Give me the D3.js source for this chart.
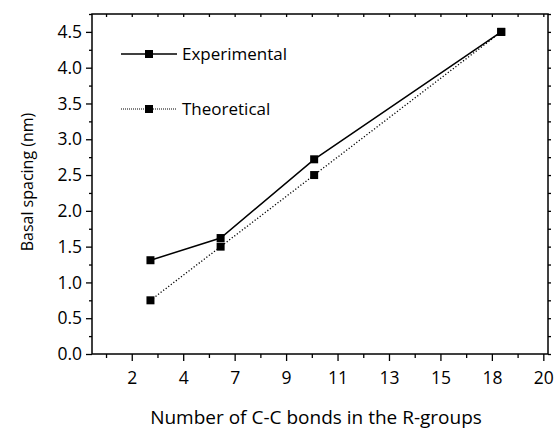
<!DOCTYPE html>
<html>
<head>
<meta charset="utf-8">
<script src="https://cdn.jsdelivr.net/npm/d3@7"></script>
<style>
  body { margin: 0; background: #fff; }
  text { font-family: "Open Sans", sans-serif; fill: #000; }
</style>
</head>
<body>
<div id="chart"></div>
<script>
// bonds in the R-groups (x) and basal spacing in nm (y)
const bonds = [3, 6, 10, 18];
const experimental = [1.31, 1.62, 2.72, 4.5];
const theoretical = [0.75, 1.5, 2.5, 4.5];
// x ticks every 2.2, shown rounded (2, 4, 7, 9 ...)
const xTicks = [2.2, 4.4, 6.6, 8.8, 11, 13.2, 15.4, 17.6, 19.8];
const xMinor = [1.1, 3.3, 5.5, 7.7, 9.9, 12.1, 14.3, 16.5, 18.7];
const yTicks = [0, 0.5, 1, 1.5, 2, 2.5, 3, 3.5, 4, 4.5];
const yMinor = [0.25, 0.75, 1.25, 1.75, 2.25, 2.75, 3.25, 3.75, 4.25, 4.75];

const W = 554, H = 429;
const margin = {top: 14, right: 6, bottom: 75, left: 92};
const w = W - margin.left - margin.right;
const h = H - margin.top - margin.bottom;

const svg = d3.select("#chart").append("svg")
    .attr("width", W).attr("height", H);
const g = svg.append("g")
    .attr("transform", `translate(${margin.left},${margin.top})`);

const x = d3.scaleLinear().domain([0.5, 20]).range([0, w]);
const y = d3.scaleLinear().domain([0, 4.75]).range([h, 0]);

// frame
g.append("rect").attr("width", w).attr("height", h)
  .attr("fill", "none").attr("stroke", "#000").attr("stroke-width", 1.5);

// bottom axis
g.append("g").attr("transform", `translate(0,${h})`)
  .call(d3.axisBottom(x).tickValues(xTicks).tickFormat(d3.format(".0f"))
        .tickSize(7).tickPadding(11));
g.append("g").attr("transform", `translate(0,${h})`)
  .call(d3.axisBottom(x).tickValues(xMinor).tickFormat("").tickSize(4));

// left axis
g.append("g")
  .call(d3.axisLeft(y).tickValues(yTicks).tickFormat(d3.format(".1f"))
        .tickSize(6).tickPadding(4));
g.append("g")
  .call(d3.axisLeft(y).tickValues(yMinor).tickFormat("").tickSize(3));

// small mirror ticks on top and right
g.append("g")
  .call(d3.axisTop(x).tickValues(xTicks.concat(xMinor)).tickFormat("").tickSize(-3));
g.append("g").attr("transform", `translate(${w},0)`)
  .call(d3.axisRight(y).tickValues(yTicks.concat(yMinor)).tickFormat("").tickSize(3));

g.selectAll(".domain").remove();
g.selectAll(".tick line").attr("stroke", "#000").attr("stroke-width", 1.3);
g.selectAll(".tick text").attr("font-size", 17.5).attr("fill", "#000");

// series
const series = [
  {name: "Experimental", vals: experimental, dash: null},
  {name: "Theoretical", vals: theoretical, dash: "1.2,2"}
];

const line = d3.line().x(d => x(d[0])).y(d => y(d[1]));

series.forEach(function(s) {
  const pts = bonds.map((b, i) => [b, s.vals[i]]);
  g.append("path").datum(pts)
    .attr("d", line)
    .attr("fill", "none").attr("stroke", "#000")
    .attr("stroke-width", s.dash ? 1.3 : 1.5)
    .attr("stroke-dasharray", s.dash);
  g.selectAll(null).data(pts).enter().append("rect")
    .attr("x", d => x(d[0]) - 4).attr("y", d => y(d[1]) - 4)
    .attr("width", 8).attr("height", 8).attr("fill", "#000");
});

// legend
series.forEach(function(s, i) {
  const ly = 40 + i * 55;
  const lg = g.append("g").attr("transform", `translate(29,${ly})`);
  lg.append("line").attr("x1", 0).attr("x2", 56)
    .attr("stroke", "#000").attr("stroke-width", s.dash ? 1 : 1.5)
    .attr("stroke-dasharray", s.dash ? "1,1" : null);
  lg.append("rect").attr("x", 24).attr("y", -4).attr("width", 8).attr("height", 8);
  lg.append("text").attr("x", 61).attr("y", 6).attr("font-size", 17)
    .text(s.name);
});

// axis titles
svg.append("text")
  .attr("x", margin.left + w / 2 - 4).attr("y", 424)
  .attr("text-anchor", "middle").attr("font-size", 19)
  .text("Number of C-C bonds in the R-groups");
svg.append("text")
  .attr("transform", `translate(33,${margin.top + h / 2 - 2}) rotate(-90)`)
  .attr("text-anchor", "middle").attr("font-size", 16)
  .text("Basal spacing (nm)");
</script>
</body>
</html>
